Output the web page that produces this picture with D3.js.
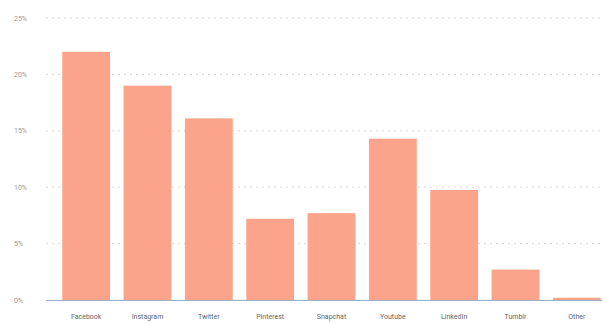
<!DOCTYPE html>
<html>
<head>
<meta charset="utf-8">
<script src="https://cdn.jsdelivr.net/npm/d3@7"></script>
<style>
body{margin:0;background:#fff;}
</style>
</head>
<body>
<svg id="chart" width="602" height="323"></svg>
<script>
var networks=["Facebook","Instagram","Twitter","Pinterest","Snapchat","Youtube","LinkedIn","Tumblr","Other"];
var shares=[22.0,19.0,16.1,7.2,7.7,14.3,9.75,2.7,0.2];
var ticks=[0,5,10,15,20,25];

var svg=d3.select("#chart");

var x=d3.scaleBand()
	.domain(networks)
	.range([55.5,607.5])
	.paddingInner(0.22)
	.paddingOuter(0.11);

var y=d3.scaleLinear()
	.domain([0,25])
	.range([300,18]);

// grid lines
svg.append("g")
	.selectAll("line")
	.data(ticks.filter(function(d){return d>0}))
	.enter().append("line")
	.attr("x1",46)
	.attr("x2",602)
	.attr("y1",function(d){return y(d)})
	.attr("y2",function(d){return y(d)})
	.style("stroke","#d8d8d8")
	.style("stroke-width",1)
	.style("stroke-dasharray","2,4");

// y labels
svg.append("g")
	.selectAll("text")
	.data(ticks)
	.enter().append("text")
	.attr("x",14)
	.attr("y",function(d){return y(d)+2.5})
	.text(function(d){return d+"%"})
	.style("font-family","Roboto, sans-serif")
	.style("font-size","7px")
	.style("fill","#999");

// bars
svg.append("g")
	.selectAll("rect")
	.data(shares)
	.enter().append("rect")
	.attr("x",function(d,i){return x(networks[i])})
	.attr("y",function(d){return y(d)})
	.attr("width",x.bandwidth())
	.attr("height",function(d){return y(0)-y(d)})
	.style("fill","#fca48b");

// baseline
svg.append("line")
	.attr("x1",46)
	.attr("x2",602)
	.attr("y1",y(0)+0.5)
	.attr("y2",y(0)+0.5)
	.style("stroke","#9bb0c4")
	.style("stroke-width",1.2);

// x labels
svg.append("g")
	.selectAll("text")
	.data(networks)
	.enter().append("text")
	.attr("x",function(d){return x(d)+x.bandwidth()/2})
	.attr("y",319)
	.attr("text-anchor","middle")
	.text(function(d){return d})
	.style("font-family","Roboto, sans-serif")
	.style("font-size","7px")
	.style("fill","#666");
</script>
</body>
</html>
